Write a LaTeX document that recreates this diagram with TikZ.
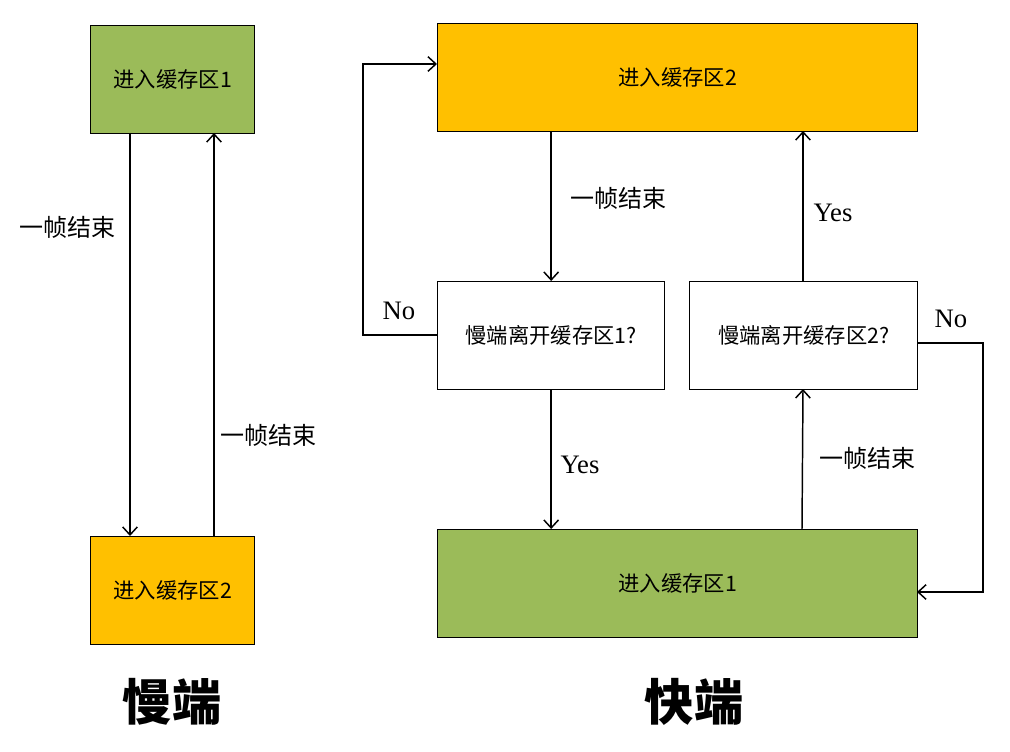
\documentclass[tikz,border=0pt]{standalone}
\usepackage{fontspec}
\setmainfont{Liberation Serif}
\newfontfamily\cjk{Noto Sans CJK SC}
\usetikzlibrary{arrows.meta}
\definecolor{bgreen}{HTML}{9BBB59}
\definecolor{borange}{HTML}{FFC000}
\tikzset{
  box/.style={draw=black, line width=1pt, inner sep=0pt, anchor=north west},
  lbl/.style={font=\cjk\fontsize{16}{18}\selectfont, inner sep=0pt},
  clbl/.style={font=\cjk\fontsize{18}{20}\selectfont, inner sep=0pt},
  ylbl/.style={font=\fontsize{20}{22}\selectfont, inner sep=0pt},
  ttl/.style={font=\cjk\bfseries\fontsize{37}{40}\selectfont, inner sep=0pt},
  arr/.style={draw=black, line width=1.1pt, -{Straight Barb[length=6pt,width=11pt,line width=1.1pt]}},
  ln/.style={draw=black, line width=1.1pt}
}
\begin{document}
\begin{tikzpicture}[x=0.75pt,y=-0.75pt]
\useasboundingbox (0,0) rectangle (1010,752);
% left column
\node[box, fill=bgreen, minimum width=164*0.75pt, minimum height=108*0.75pt] (l1) at (90,25) {};
\node[lbl] at (l1.center) {进入缓存区1};
\node[box, fill=borange, minimum width=164*0.75pt, minimum height=108*0.75pt] (l2) at (90,536) {};
\node[lbl] at (l2.center) {进入缓存区2};
\coordinate (l1a) at (130,133);
\coordinate (l2a) at (130,536);
\coordinate (l1b) at (214,133);
\coordinate (l2b) at (214,536);
\draw[arr] (l1a) -- (l2a);
\draw[arr] (l2b) -- (l1b);
\node[clbl] (la) at (67,227) {一帧结束};
\node[clbl] (lb) at (268,435) {一帧结束};
\node[ttl] (t1) at (172,702) {慢端};
% right column
\node[box, fill=borange, minimum width=480*0.75pt, minimum height=108*0.75pt] (r1) at (437,23) {};
\node[lbl] at (r1.center) {进入缓存区2};
\node[box, fill=white, minimum width=227*0.75pt, minimum height=108*0.75pt] (q1) at (437,281) {};
\node[lbl] at (q1.center) {慢端离开缓存区1?};
\node[box, fill=white, minimum width=228*0.75pt, minimum height=108*0.75pt] (q2) at (689,281) {};
\node[lbl] at (q2.center) {慢端离开缓存区2?};
\node[box, fill=bgreen, minimum width=480*0.75pt, minimum height=108*0.75pt] (r2) at (437,529) {};
\node[lbl] at (r2.center) {进入缓存区1};
% arrows
\draw[arr] (r1.south -| q1.north) -- (q1.north);
\draw[arr] (q1.south) -- (q1.south |- r2.north);
\draw[arr] (r2.north -| 802,0) -- (803,389);
\draw[arr] (q2.north -| 803,0) -- (803,131);
\coordinate (nl1) at (363,335);
\coordinate (nl2) at (363,64);
\draw[arr] (437,335) -- (nl1) -- (nl2) -- (437,64);
\coordinate (nr1) at (983,343);
\coordinate (nr2) at (983,592);
\draw[arr] (917,343) -- (nr1) -- (nr2) -- (917,592);
\node[clbl] at (618,198) {一帧结束};
\node[ylbl] at (580,465) {Yes};
\node[clbl] at (867,458) {一帧结束};
\node[ylbl] at (833,213) {Yes};
\node[ylbl] at (399,311) {No};
\node[ylbl] at (951,319) {No};
\node[ttl] (t2) at (694,702) {快端};
\end{tikzpicture}
\end{document}
